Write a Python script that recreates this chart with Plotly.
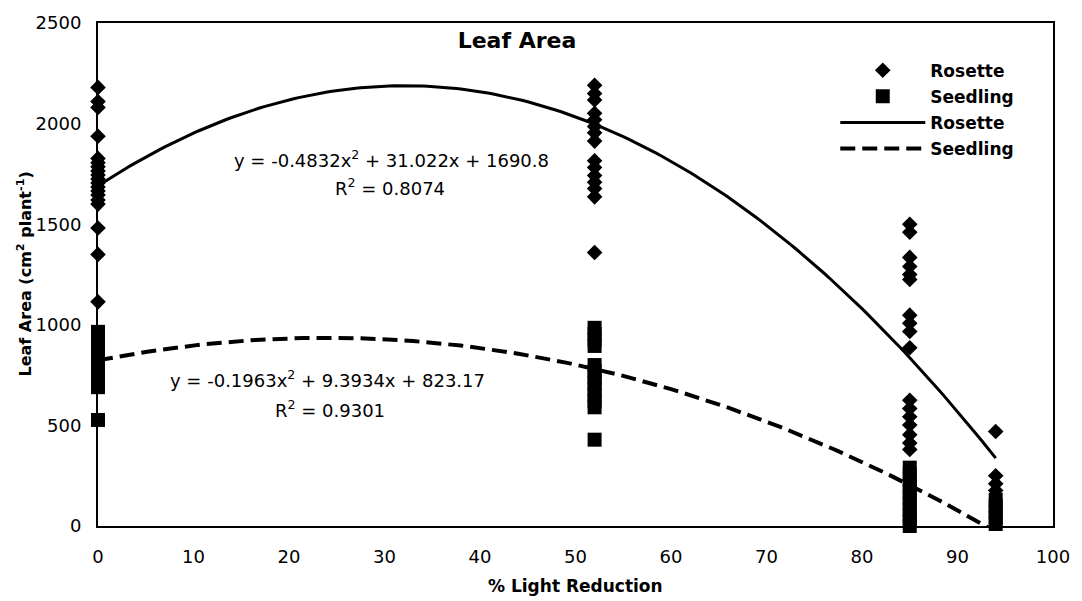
import numpy as np
import plotly.graph_objects as go

# ---- data ----
rosette_x0 = [2180, 2110, 2080, 1937, 1827, 1805, 1785, 1765, 1745, 1725, 1705, 1685, 1665, 1645, 1620, 1600, 1481, 1350, 1114]
rosette_x52 = [2190, 2149, 2117, 2051, 2019, 1986, 1954, 1913, 1815, 1782, 1742, 1709, 1677, 1636, 1359]
rosette_x85 = [1500, 1460, 1335, 1290, 1250, 1225, 1048, 1008, 967, 886, 625, 584, 543, 502, 454, 412, 380]
rosette_x94 = [470, 250, 210, 176]

seedling_x0 = [965, 940, 915, 890, 865, 840, 815, 790, 765, 740, 715, 690, 527]
seedling_x52 = [985, 955, 925, 895, 800, 770, 740, 710, 680, 650, 620, 590, 429]
seedling_x85 = [290, 260, 230, 200, 170, 140, 110, 80, 50, 25, 0]
seedling_x94 = [130, 100, 70, 40, 10]

light_levels = [0, 52, 85, 94]

# trendline coefficients as printed on the chart (a, b, c for a*x^2 + b*x + c)
rosette_coef = [-0.4832, 31.022, 1690.8]
seedling_coef = [-0.1963, 9.3934, 823.17]
rosette_r2 = 0.8074
seedling_r2 = 0.9301
trend_x = np.linspace(0, 94, 189)

x_ticks = list(range(0, 101, 10))
y_ticks = list(range(0, 2501, 500))

# ---- build ----
def stack(groups):
    xs, ys = [], []
    for lvl, vals in zip(light_levels, groups):
        xs += [lvl] * len(vals)
        ys += vals
    return xs, ys

rx, ry = stack([rosette_x0, rosette_x52, rosette_x85, rosette_x94])
sx, sy = stack([seedling_x0, seedling_x52, seedling_x85, seedling_x94])

FONT = "DejaVu Sans"
fig = go.Figure()
fig.add_trace(go.Scatter(x=rx, y=ry, mode="markers", name="Rosette",
                         marker=dict(symbol="diamond", size=12, color="black"),
                         cliponaxis=False, legendgroup="a"))
fig.add_trace(go.Scatter(x=sx, y=sy, mode="markers", name="Seedling",
                         marker=dict(symbol="square", size=14, color="black"),
                         cliponaxis=False, legendgroup="b"))
fig.add_trace(go.Scatter(x=trend_x, y=np.polyval(rosette_coef, trend_x), mode="lines",
                         name="Rosette", line=dict(color="black", width=3), legendgroup="c"))
fig.add_trace(go.Scatter(x=trend_x, y=np.polyval(seedling_coef, trend_x), mode="lines",
                         name="Seedling", line=dict(color="black", width=4, dash="15px,7px"),
                         legendgroup="d"))

def eq_line(c):
    return f"y = {c[0]}x<sup>2</sup> + {c[1]}x + {c[2]}"

def r2_line(r2):
    return f"R<sup>2</sup> = {r2}"

axis_common = dict(showline=True, mirror=True, linecolor="black", linewidth=2,
                   showgrid=False, zeroline=False, ticks="",
                   tickfont=dict(family=FONT, size=18, color="black"))

eq_font = dict(family=FONT, size=18, color="black")

fig.update_layout(
    width=1082, height=601,
    margin=dict(l=98, r=29, t=15, b=75),
    paper_bgcolor="white", plot_bgcolor="white",
    font=dict(family=FONT, color="black"),
    xaxis=dict(range=[0, 100], tickvals=x_ticks, ticklabelstandoff=13, **axis_common),
    yaxis=dict(range=[0, 2500], tickvals=y_ticks, ticklabelstandoff=11, **axis_common),
    showlegend=True,
    legend=dict(x=0.772, y=0.941, xanchor="left", yanchor="top",
                font=dict(family=FONT, size=17, color="black", weight="bold"),
                itemwidth=85, tracegroupgap=1, bgcolor="rgba(0,0,0,0)"),
    title=dict(text="<b>Leaf Area</b>", x=(517 - 98) / 955, xref="paper", xanchor="center",
               y=1 - 40 / 601, yref="container", yanchor="middle",
               font=dict(family=FONT, size=22, color="black")),
    annotations=[
        dict(text="<b>% Light Reduction</b>", xref="paper", yref="paper", x=0.5, y=0,
             yanchor="middle", yshift=-60, showarrow=False,
             font=dict(family=FONT, size=17)),
        dict(text="<b>Leaf Area (cm<sup>2</sup> plant<sup>-1</sup>)</b>", xref="paper", yref="paper",
             x=0, y=0.5, xanchor="center", yanchor="middle", xshift=-73, textangle=-90,
             showarrow=False, font=dict(family=FONT, size=16)),
        dict(text=eq_line(rosette_coef), x=30.7, y=1825, showarrow=False, font=eq_font),
        dict(text=r2_line(rosette_r2), x=30.6, y=1683, showarrow=False, font=eq_font),
        dict(text=eq_line(seedling_coef), x=24.0, y=730, showarrow=False, font=eq_font),
        dict(text=r2_line(seedling_r2), x=24.3, y=584, showarrow=False, font=eq_font),
    ],
)

fig.write_html("out.html")
